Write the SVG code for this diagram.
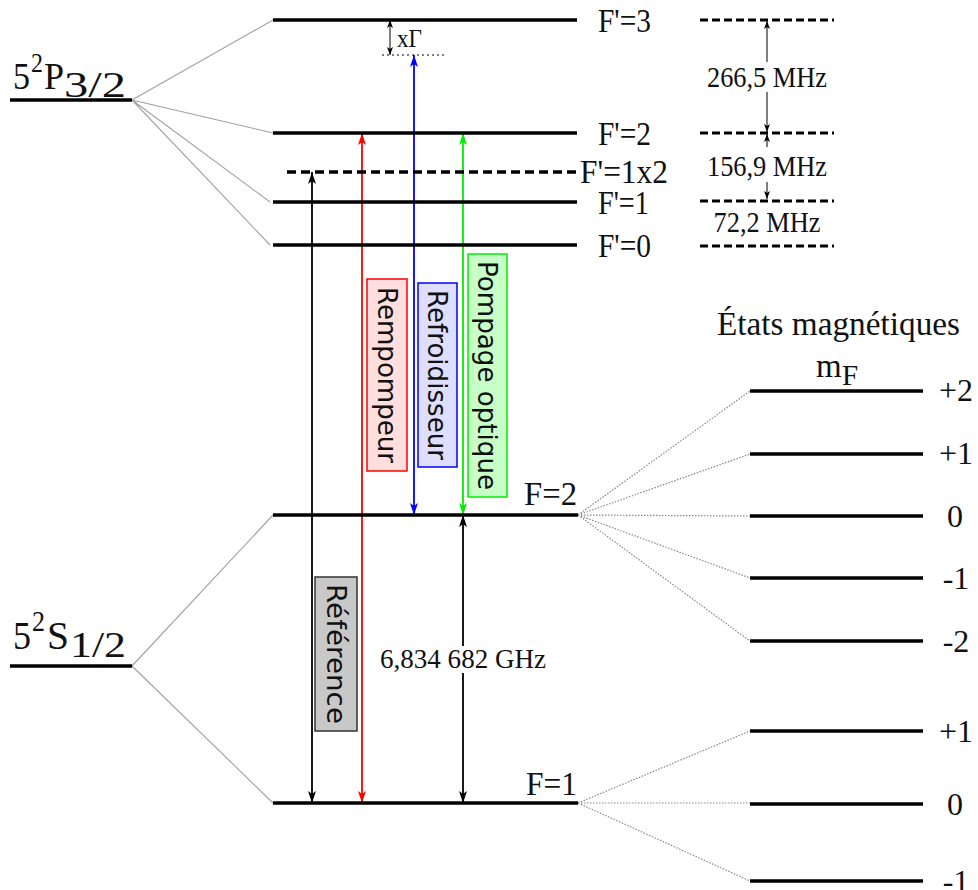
<svg xmlns="http://www.w3.org/2000/svg" width="978" height="890" viewBox="0 0 978 890">
<style>
.lvl{stroke:#000;stroke-width:3.5;fill:none}
.dash{stroke:#000;stroke-width:3.5;fill:none;stroke-dasharray:9 5}
.rdash{stroke:#000;stroke-width:3;fill:none;stroke-dasharray:8 4}
.gl{stroke:#a0a0a0;stroke-width:1.1;fill:none}
.dl{stroke:#888;stroke-width:1.2;fill:none;stroke-dasharray:1.5 1.5}
.serif{font-family:"Liberation Serif","Times New Roman",serif;fill:#111}
.sans{font-family:"DejaVu Sans","Noto Sans",sans-serif;fill:#111}
.ar{fill:none;stroke-width:1.8}
</style>
<defs>
<marker id="mk" viewBox="0 0 12 8" refX="12" refY="4" markerWidth="12" markerHeight="8" orient="auto-start-reverse" markerUnits="userSpaceOnUse"><path d="M0,0 L12,4 L0,8 L3,4 z" fill="#000"/></marker>
<marker id="mr" viewBox="0 0 12 8" refX="12" refY="4" markerWidth="12" markerHeight="8" orient="auto-start-reverse" markerUnits="userSpaceOnUse"><path d="M0,0 L12,4 L0,8 L3,4 z" fill="#ff0000"/></marker>
<marker id="mb" viewBox="0 0 12 8" refX="12" refY="4" markerWidth="12" markerHeight="8" orient="auto-start-reverse" markerUnits="userSpaceOnUse"><path d="M0,0 L12,4 L0,8 L3,4 z" fill="#0000ff"/></marker>
<marker id="mg" viewBox="0 0 12 8" refX="12" refY="4" markerWidth="12" markerHeight="8" orient="auto-start-reverse" markerUnits="userSpaceOnUse"><path d="M0,0 L12,4 L0,8 L3,4 z" fill="#00ee00"/></marker>
<marker id="ms" viewBox="0 0 8 6" refX="8" refY="3" markerWidth="8" markerHeight="6" orient="auto-start-reverse" markerUnits="userSpaceOnUse"><path d="M0,0 L8,3 L0,6 L2,3 z" fill="#000"/></marker>
</defs>
<rect width="978" height="890" fill="#fff"/>

<g id="connectors">
<path class="gl" d="M132,100 L273,20 M132,100 L273,133 M132,100 L270,202 M132,100 L270,245"/>
<path class="gl" d="M132,666 L273,515 M132,666 L273,803"/>
<path class="dl" d="M578,515 L750,391 M578,515 L750,454 M578,515 L750,516 M578,515 L750,578 M578,515 L750,641"/>
<path class="dl" d="M578,803 L750,731 M578,803 L750,803 M578,803 L750,881"/>
<path class="ar" stroke="#000" d="M312,803 L312,172" marker-start="url(#mk)" marker-end="url(#mk)"/>
<path class="ar" stroke="#ff0000" d="M362,803 L362,133" marker-start="url(#mr)" marker-end="url(#mr)"/>
<path class="ar" stroke="#0000ff" d="M414,515 L414,55" marker-start="url(#mb)" marker-end="url(#mb)"/>
<path class="ar" stroke="#00ee00" d="M463,515 L463,133" marker-start="url(#mg)" marker-end="url(#mg)"/>
<path class="ar" stroke="#000" d="M463,803 L463,515" marker-start="url(#mk)" marker-end="url(#mk)"/>
<path stroke="#000" stroke-width="1" stroke-dasharray="2 3" d="M382,55 L447,55"/>
<path stroke="#000" stroke-width="1" fill="none" d="M390,55 L390,20" marker-start="url(#ms)" marker-end="url(#ms)"/>
<path stroke="#000" stroke-width="1" fill="none" d="M767,62 L767,21" marker-end="url(#ms)"/>
<path stroke="#000" stroke-width="1" fill="none" d="M767,92 L767,132" marker-end="url(#ms)"/>
<path stroke="#000" stroke-width="1" fill="none" d="M767,147 L767,134" marker-end="url(#ms)"/>
<path stroke="#000" stroke-width="1" fill="none" d="M767,182 L767,199" marker-end="url(#ms)"/>
</g>

<g id="P32">
<line class="lvl" x1="10" y1="100" x2="132" y2="100"/>
<text class="serif" x="13" y="89" font-size="38" textLength="17" lengthAdjust="spacingAndGlyphs">5</text>
<text class="serif" x="31" y="72" font-size="28" textLength="12" lengthAdjust="spacingAndGlyphs">2</text>
<text class="serif" x="44" y="89" font-size="38" textLength="20" lengthAdjust="spacingAndGlyphs">P</text>
<text class="serif" x="64" y="97" font-size="35" textLength="62" lengthAdjust="spacingAndGlyphs">3/2</text>
</g>
<g id="S12">
<line class="lvl" x1="10" y1="666" x2="132" y2="666"/>
<text class="serif" x="13" y="649" font-size="40" textLength="18" lengthAdjust="spacingAndGlyphs">5</text>
<text class="serif" x="32" y="631" font-size="30" textLength="13" lengthAdjust="spacingAndGlyphs">2</text>
<text class="serif" x="47" y="649" font-size="40" textLength="22" lengthAdjust="spacingAndGlyphs">S</text>
<text class="serif" x="70" y="657" font-size="35" textLength="56" lengthAdjust="spacingAndGlyphs">1/2</text>
</g>

<g id="Fp3"><line class="lvl" x1="273" y1="20" x2="577" y2="20"/><text class="serif" x="598" y="32" font-size="34" textLength="53" lengthAdjust="spacingAndGlyphs">F'=3</text></g>
<g id="Fp2"><line class="lvl" x1="273" y1="133" x2="577" y2="133"/><text class="serif" x="598" y="145" font-size="34" textLength="53" lengthAdjust="spacingAndGlyphs">F'=2</text></g>
<g id="Fp1x2"><line class="dash" x1="287" y1="172" x2="577" y2="172"/><text class="serif" x="580" y="183" font-size="33" textLength="88" lengthAdjust="spacingAndGlyphs">F'=1x2</text></g>
<g id="Fp1"><line class="lvl" x1="273" y1="202" x2="577" y2="202"/><text class="serif" x="598" y="214" font-size="34" textLength="51" lengthAdjust="spacingAndGlyphs">F'=1</text></g>
<g id="Fp0"><line class="lvl" x1="273" y1="245" x2="577" y2="245"/><text class="serif" x="598" y="257" font-size="34" textLength="53" lengthAdjust="spacingAndGlyphs">F'=0</text></g>
<g id="F2"><line class="lvl" x1="273" y1="515" x2="578" y2="515"/><text class="serif" x="524" y="505" font-size="33" textLength="53" lengthAdjust="spacingAndGlyphs">F=2</text></g>
<g id="F1"><line class="lvl" x1="273" y1="803" x2="578" y2="803"/><text class="serif" x="526" y="795" font-size="33" textLength="51" lengthAdjust="spacingAndGlyphs">F=1</text></g>

<g id="xGamma"><text class="serif" x="397" y="47" font-size="25" textLength="25" lengthAdjust="spacingAndGlyphs">xΓ</text></g>

<g id="hfs">
<line class="rdash" x1="700" y1="20" x2="834" y2="20"/>
<line class="rdash" x1="700" y1="133" x2="834" y2="133"/>
<line class="rdash" x1="700" y1="201" x2="834" y2="201"/>
<line class="rdash" x1="700" y1="246" x2="834" y2="246"/>
<text class="serif" x="767" y="87" font-size="29" text-anchor="middle" textLength="120" lengthAdjust="spacingAndGlyphs">266,5 MHz</text>
<text class="serif" x="767" y="176" font-size="29" text-anchor="middle" textLength="120" lengthAdjust="spacingAndGlyphs">156,9 MHz</text>
<text class="serif" x="767" y="232" font-size="29" text-anchor="middle" textLength="107" lengthAdjust="spacingAndGlyphs">72,2 MHz</text>
</g>

<g id="Rempompeur"><rect x="367" y="279" width="40" height="192" fill="#ffdede" stroke="#ff0000" stroke-width="1.5"/><text class="sans" transform="translate(387,375) rotate(90)" x="0" y="9.5" font-size="26" text-anchor="middle" textLength="176" lengthAdjust="spacingAndGlyphs">Rempompeur</text></g>
<g id="Refroidisseur"><rect x="418" y="283" width="39" height="184" fill="#dedeff" stroke="#0000ff" stroke-width="1.5"/><text class="sans" transform="translate(437.5,375) rotate(90)" x="0" y="9.5" font-size="26" text-anchor="middle" textLength="170" lengthAdjust="spacingAndGlyphs">Refroidisseur</text></g>
<g id="Pompage"><rect x="468" y="254" width="39" height="243" fill="#c8ffc8" stroke="#00ee00" stroke-width="1.5"/><text class="sans" transform="translate(487.5,375.5) rotate(90)" x="0" y="9.5" font-size="26" text-anchor="middle" textLength="229" lengthAdjust="spacingAndGlyphs">Pompage optique</text></g>
<g id="Reference"><rect x="315" y="577" width="42" height="154" fill="#c8c8c8" stroke="#333" stroke-width="1.5"/><text class="sans" transform="translate(336,654) rotate(90)" x="0" y="9.5" font-size="27" text-anchor="middle" textLength="140" lengthAdjust="spacingAndGlyphs">Référence</text></g>

<g id="GHz"><rect x="379" y="646" width="168" height="27" fill="#fff"/><text class="serif" x="463" y="668" font-size="28" text-anchor="middle" textLength="166" lengthAdjust="spacingAndGlyphs">6,834 682 GHz</text></g>

<g id="mF">
<text class="serif" x="717" y="335" font-size="34" textLength="243" lengthAdjust="spacingAndGlyphs">États magnétiques</text>
<text class="serif" x="816" y="377" font-size="33">m</text>
<text class="serif" x="842" y="385" font-size="29">F</text>
</g>
<g id="mF2p"><line class="lvl" x1="750" y1="391" x2="923" y2="391"/><text class="serif" x="956" y="401" font-size="32" text-anchor="middle">+2</text></g>
<g id="mF2p1"><line class="lvl" x1="750" y1="454" x2="923" y2="454"/><text class="serif" x="956" y="464" font-size="32" text-anchor="middle">+1</text></g>
<g id="mF20"><line class="lvl" x1="750" y1="516" x2="923" y2="516"/><text class="serif" x="955" y="527" font-size="32" text-anchor="middle">0</text></g>
<g id="mF2m1"><line class="lvl" x1="750" y1="578" x2="923" y2="578"/><text class="serif" x="956" y="589" font-size="32" text-anchor="middle">-1</text></g>
<g id="mF2m2"><line class="lvl" x1="750" y1="641" x2="923" y2="641"/><text class="serif" x="956" y="652" font-size="32" text-anchor="middle">-2</text></g>
<g id="mF1p1"><line class="lvl" x1="750" y1="731" x2="923" y2="731"/><text class="serif" x="956" y="742" font-size="32" text-anchor="middle">+1</text></g>
<g id="mF10"><line class="lvl" x1="750" y1="804" x2="923" y2="804"/><text class="serif" x="955" y="815" font-size="32" text-anchor="middle">0</text></g>
<g id="mF1m1"><line class="lvl" x1="750" y1="881" x2="923" y2="881"/><text class="serif" x="956" y="892" font-size="32" text-anchor="middle">-1</text></g>
</svg>
